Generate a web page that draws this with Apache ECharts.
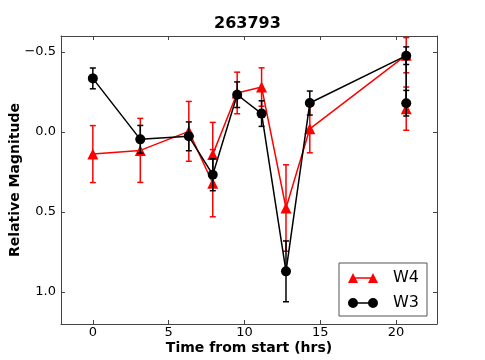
<!DOCTYPE html>
<html>
<head>
<meta charset="utf-8">
<script src="https://cdn.jsdelivr.net/npm/echarts@6/dist/echarts.min.js"></script>
<style>
  html, body { margin: 0; padding: 0; background: #fff; }
  #chart { width: 485px; height: 360px; }
</style>
</head>
<body>
<div id="chart"></div>
<script>
// data (hours, relative magnitude, 1-sigma error)
const w4Time = [0, 3.13, 6.33, 7.91, 7.91, 9.52, 11.13, 12.74, 14.31, 20.67, 20.67];
const w4Mag  = [0.138, 0.115, -0.004, 0.32, 0.14, -0.244, -0.281, 0.475, -0.02, -0.48, -0.146];
const w4Err  = [0.178, 0.2, 0.187, 0.21, 0.2, 0.13, 0.12, 0.27, 0.15, 0.11, 0.135];

const w3Time = [0, 3.13, 6.33, 7.91, 9.52, 11.13, 12.74, 14.31, 20.67, 20.67];
const w3Mag  = [-0.335, 0.046, 0.027, 0.267, -0.233, -0.115, 0.871, -0.181, -0.477, -0.18];
const w3Err  = [0.065, 0.087, 0.09, 0.1, 0.08, 0.08, 0.19, 0.075, 0.055, 0.08];

const xTicks = [0, 5, 10, 15, 20];
const yTicks = [-0.5, 0, 0.5, 1.0];

const FONT = "DejaVu Sans";
const FRAME = "#444";
const RED = "#ff0000";
const BLACK = "#000000";

const points = (t, m) => t.map((x, i) => [x, m[i]]);
const bars = (t, m, e) => t.map((x, i) => [x, m[i] - e[i], m[i] + e[i]]);

// vertical error bar with caps
function errorBar(color) {
  return function (params, api) {
    const x = api.value(0);
    const lo = api.coord([x, api.value(1)]);
    const hi = api.coord([x, api.value(2)]);
    const cap = 3;
    const style = { stroke: color, lineWidth: 1.5 };
    return {
      type: "group",
      children: [
        { type: "line", shape: { x1: lo[0], y1: lo[1], x2: hi[0], y2: hi[1] }, style },
        { type: "line", shape: { x1: lo[0] - cap, y1: lo[1], x2: lo[0] + cap, y2: lo[1] }, style },
        { type: "line", shape: { x1: hi[0] - cap, y1: hi[1], x2: hi[0] + cap, y2: hi[1] }, style }
      ]
    };
  };
}

const triIcon = "path://M0,10 L5,0 L10,10 Z M5,4.2 L25,4.2 L25,5.8 L5,5.8 Z M20,10 L25,0 L30,10 Z";
const dotIcon = "path://M0,5 A5,5 0 1,1 10,5 A5,5 0 1,1 0,5 Z M5,4.2 L25,4.2 L25,5.8 L5,5.8 Z M20,5 A5,5 0 1,1 30,5 A5,5 0 1,1 20,5 Z";

const chart = echarts.init(document.getElementById("chart"));

const baseX = {
  type: "value",
  min: -2.1,
  max: 22.7,
  axisLine: { show: true, onZero: false, lineStyle: { color: FRAME, width: 1 } },
  axisTick: { show: true, inside: true, length: 4, customValues: xTicks, lineStyle: { color: FRAME } },
  splitLine: { show: false }
};
const baseY = {
  type: "value",
  inverse: true,
  min: -0.6,
  max: 1.2,
  axisLine: { show: true, onZero: false, lineStyle: { color: FRAME, width: 1 } },
  axisTick: { show: true, inside: true, length: 4, customValues: yTicks, lineStyle: { color: FRAME } },
  splitLine: { show: false }
};

chart.setOption({
  animation: false,
  backgroundColor: "#fff",
  textStyle: { fontFamily: FONT },
  title: {
    text: "263793",
    left: 214,
    top: 16,
    padding: 0,
    textStyle: { fontFamily: FONT, fontSize: 16, fontWeight: "bold", color: "#000" }
  },
  grid: { left: 61, right: 48, top: 36, bottom: 36, outerBoundsMode: "none", containLabel: false },
  legend: {
    orient: "vertical",
    left: 339,
    top: 263,
    padding: [7, 8, 5, 9],
    borderColor: "#555",
    borderWidth: 1,
    backgroundColor: "#fff",
    itemWidth: 30,
    itemHeight: 10,
    itemGap: 9,
    textStyle: { fontFamily: FONT, fontSize: 16, color: "#000", padding: [0, 0, 0, 10], lineHeight: 15 },
    data: [
      { name: "W4", icon: triIcon, itemStyle: { color: RED } },
      { name: "W3", icon: dotIcon, itemStyle: { color: BLACK } }
    ]
  },
  xAxis: [
    Object.assign({}, baseX, {
      position: "bottom",
      name: "Time from start (hrs)",
      nameLocation: "middle",
      nameGap: 17,
      nameMoveOverlap: false,
      nameTextStyle: { fontFamily: FONT, fontSize: 14, fontWeight: "bold", color: "#000" },
      axisLabel: { customValues: xTicks, margin: 2, fontFamily: FONT, fontSize: 13, color: "#000" }
    }),
    Object.assign({}, baseX, { position: "top", axisLabel: { show: false } })
  ],
  yAxis: [
    Object.assign({}, baseY, {
      position: "left",
      name: "Relative Magnitude",
      nameLocation: "middle",
      nameGap: 39,
      nameMoveOverlap: false,
      nameTextStyle: { fontFamily: FONT, fontSize: 14, fontWeight: "bold", color: "#000" },
      axisLabel: {
        customValues: yTicks,
        margin: 5,
        fontFamily: FONT,
        fontSize: 13,
        color: "#000",
        formatter: (v) => (v < 0 ? "\u2212" : "") + Math.abs(v).toFixed(1)
      }
    }),
    Object.assign({}, baseY, { position: "right", axisLabel: { show: false } })
  ],
  series: [
    {
      name: "W4",
      type: "custom",
      renderItem: errorBar(RED),
      data: bars(w4Time, w4Mag, w4Err),
      encode: { x: 0, y: [1, 2] },
      itemStyle: { color: RED },
      z: 2
    },
    {
      name: "W4",
      type: "line",
      data: points(w4Time, w4Mag),
      symbol: "triangle",
      symbolSize: 11,
      itemStyle: { color: RED },
      lineStyle: { color: RED, width: 1.5 },
      z: 3
    },
    {
      name: "W3",
      type: "custom",
      renderItem: errorBar(BLACK),
      data: bars(w3Time, w3Mag, w3Err),
      encode: { x: 0, y: [1, 2] },
      itemStyle: { color: BLACK },
      z: 4
    },
    {
      name: "W3",
      type: "line",
      data: points(w3Time, w3Mag),
      symbol: "circle",
      symbolSize: 10,
      itemStyle: { color: BLACK },
      lineStyle: { color: BLACK, width: 1.5 },
      z: 5
    }
  ]
});
</script>
</body>
</html>
